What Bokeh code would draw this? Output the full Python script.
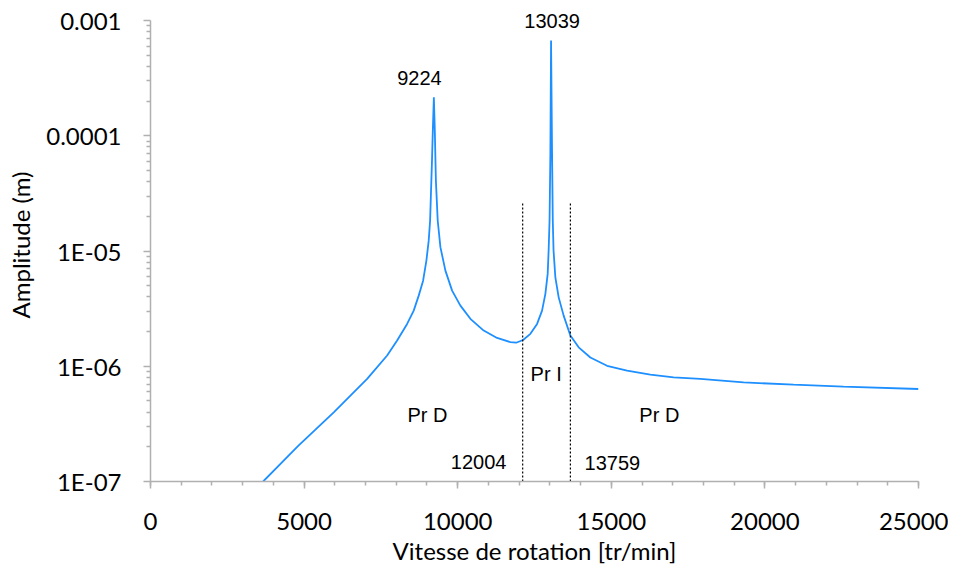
from bokeh.plotting import figure
from bokeh.models import (Range1d, FixedTicker, SingleIntervalTicker, CustomJSTickFormatter,
                          Label, ColumnDataSource)
from bokeh.embed import file_html
from bokeh.resources import INLINE

# ---- data ----
speed = [3667, 4816, 5965, 6508, 7052, 7703, 8028, 8353, 8568, 8731,
         8874, 8981, 9056, 9102, 9125, 9160, 9190, 9224, 9255, 9290,
         9349, 9437, 9600, 9818, 10088, 10413, 10846, 11282, 11715, 11900,
         12128, 12366, 12584, 12746, 12854, 12929, 12960, 12990, 13017, 13039,
         13072, 13095, 13120, 13179, 13287, 13449, 13667, 13938, 14318, 14862,
         15513, 16271, 17029, 17898, 19307, 20934, 22561, 25000]
amplitude = [1.0e-7, 2.05e-7, 3.98e-7, 5.56e-7, 7.76e-7, 1.24e-6, 1.67e-6, 2.33e-6, 3.04e-6, 4.10e-6,
             5.53e-6, 8.26e-6, 1.23e-5, 1.84e-5, 2.92e-5, 5.70e-5, 1.11e-4, 2.16e-4, 1.11e-4, 4.08e-5,
             1.84e-5, 1.08e-5, 6.76e-6, 4.53e-6, 3.36e-6, 2.58e-6, 2.04e-6, 1.76e-6, 1.62e-6, 1.60e-6,
             1.69e-6, 1.91e-6, 2.33e-6, 3.04e-6, 4.25e-6, 6.33e-6, 1.01e-5, 1.84e-5, 7.00e-5, 6.70e-4,
             7.00e-5, 1.84e-5, 1.01e-5, 5.91e-6, 3.96e-6, 2.75e-6, 1.85e-6, 1.46e-6, 1.19e-6, 1.01e-6,
             9.16e-7, 8.45e-7, 8.01e-7, 7.76e-7, 7.24e-7, 6.92e-7, 6.65e-7, 6.35e-7]

peak_labels = ["9224", "13039"]
peak_label_x = [8754, 13072]
peak_label_y = [3.14e-4, 1.0e-3]

boundary_labels = ["12004", "13759"]
boundary_x = [12115, 13668]
boundary_top = 2.6e-5
boundary_label_x = [10683, 15034]
boundary_label_y = [1.49e-7, 1.44e-7]

zone_labels = ["Pr D", "Pr I", "Pr D"]
zone_x = [9014, 12880, 16564]
zone_y = [3.74e-7, 8.51e-7, 3.74e-7]

y_tick_values = [1e-7, 1e-6, 1e-5, 1e-4, 1e-3]
y_tick_labels = ["1E-07", "1E-06", "1E-05", "0.0001", "0.001"]

x_label = "Vitesse de rotation [tr/min]"
y_label = "Amplitude (m)"

# ---- figure ----
# the frame extends a little above 0.001 so the top label is not clipped;
# the axis line itself stops at 0.001 via axis bounds
y_top = 1.271e-3
p = figure(frame_width=768, frame_height=473, y_axis_type="log",
           x_range=Range1d(0, 25000), y_range=Range1d(1e-7, y_top),
           output_backend="svg", toolbar_location=None,
           min_border_left=150, min_border_right=30, min_border_top=8, min_border_bottom=86)
p.outline_line_color = None
p.grid.visible = False
p.background_fill_color = "white"
p.border_fill_color = "white"

axis_col = "#b0b0b0"
for ax in (p.xaxis[0], p.yaxis[0]):
    ax.axis_line_color = axis_col
    ax.axis_line_width = 1.5
    ax.major_tick_line_color = axis_col
    ax.minor_tick_line_color = axis_col
    ax.major_tick_line_width = 1.5
    ax.minor_tick_line_width = 1.5
    ax.major_tick_in = 0
    ax.major_tick_out = 7
    ax.minor_tick_in = 0
    ax.minor_tick_out = 4
    ax.major_label_text_font = "Lato"
    ax.major_label_text_font_size = "24px"
    ax.major_label_text_color = "black"
    ax.axis_label_text_font = "Lato"
    ax.axis_label_text_font_size = "24px"
    ax.axis_label_text_font_style = "normal"
    ax.axis_label_text_color = "black"

p.xaxis[0].ticker = SingleIntervalTicker(interval=5000, num_minor_ticks=5)
p.xaxis[0].axis_label = x_label
p.xaxis[0].major_label_standoff = 24
p.xaxis[0].axis_label_standoff = 3

minor = [m * d for d in y_tick_values[:-1] for m in range(2, 10)]
p.yaxis[0].ticker = FixedTicker(ticks=y_tick_values, minor_ticks=minor)
p.yaxis[0].bounds = (y_tick_values[0], y_tick_values[-1])
p.yaxis[0].formatter = CustomJSTickFormatter(
    args=dict(vals=y_tick_values, labs=y_tick_labels),
    code="""
    for (let i = 0; i < vals.length; i++) {
        if (Math.abs(Math.log10(tick) - Math.log10(vals[i])) < 1e-6) return labs[i];
    }
    return '';
    """)
p.yaxis[0].axis_label = y_label
p.yaxis[0].major_label_standoff = 22
p.yaxis[0].axis_label_standoff = 8

# curve
src = ColumnDataSource(dict(x=speed, y=amplitude))
p.line("x", "y", source=src, line_color="#1e8fff", line_width=1.8)

# boundary dotted lines
p.segment(x0=boundary_x, y0=[1e-7] * len(boundary_x), x1=boundary_x,
          y1=[boundary_top] * len(boundary_x), line_color="black",
          line_width=1.2, line_dash="2 2")

def add_label(txt, x, y):
    p.add_layout(Label(x=x, y=y, text=txt, text_font="Liberation Sans",
                       text_font_size="20px", text_color="black",
                       text_align="center", text_baseline="middle"))

for t, x, y in zip(peak_labels, peak_label_x, peak_label_y):
    add_label(t, x, y)
for t, x, y in zip(boundary_labels, boundary_label_x, boundary_label_y):
    add_label(t, x, y)
for t, x, y in zip(zone_labels, zone_x, zone_y):
    add_label(t, x, y)

open("out.html", "w").write(file_html(p, INLINE))
